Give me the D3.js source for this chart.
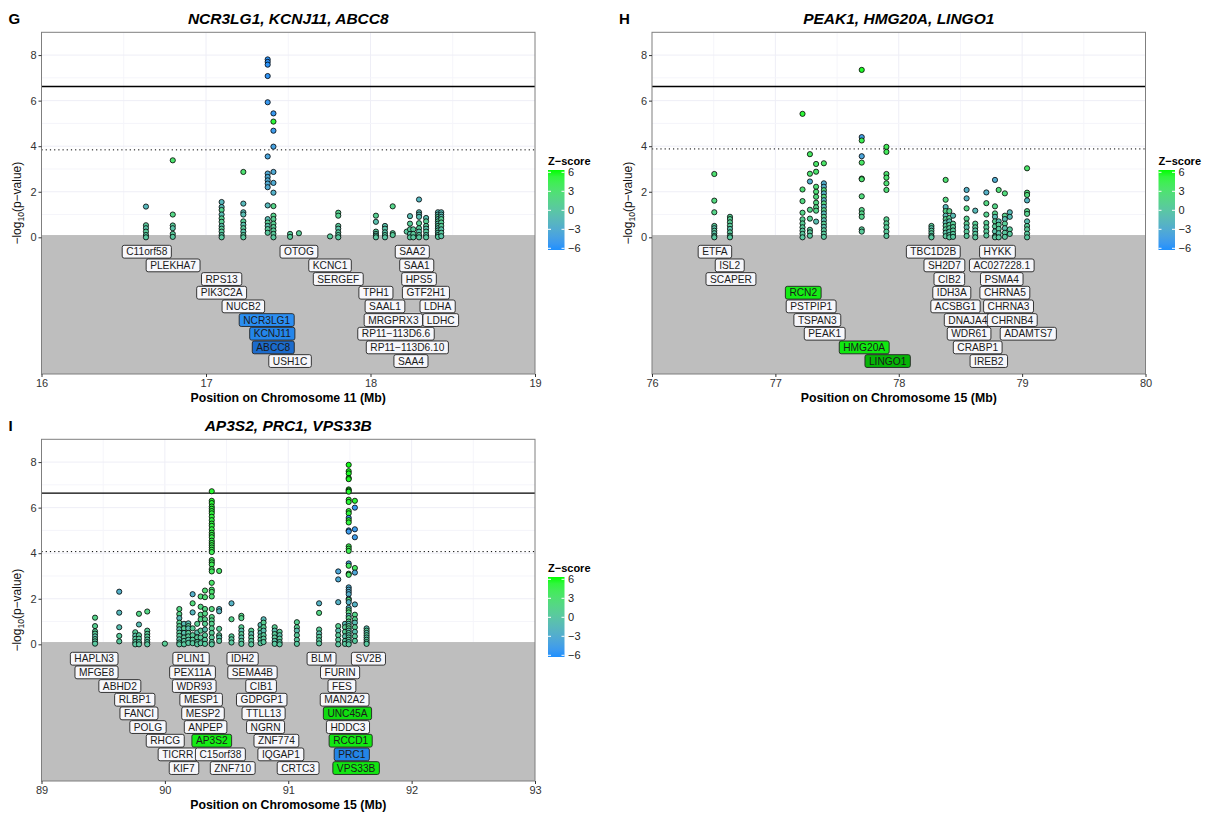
<!DOCTYPE html>
<html>
<head>
<meta charset="utf-8">
<script src="https://cdn.jsdelivr.net/npm/d3@7"></script>
<style>
body { margin: 0; background: #fff; }
text { font-family: Helvetica, Arial, "Liberation Sans", sans-serif; }
</style>
</head>
<body>
<script>
// columns of SNPs: [position (Mb), [[-log10 p, z-score], ...]]
const gCols = [
  [16.635, [[1.35,-1.6],[0.53,0.5],[0.4,-0.3],[0.25,0.4],[0.1,0.2],[0.0,0.1]]],
  [16.798, [[3.38,3.0],[1.0,1.7],[0.52,0.6],[0.4,-0.3],[0.15,0.5],[0.02,0.2]]],
  [17.095, [[1.55,-1.6],[1.33,-1.4],[1.2,1.3],[1.0,-1.0],[0.83,1.0],[0.68,0.9],[0.5,-0.6],[0.38,0.7],[0.25,0.4],[0.1,-0.3],[0.0,0.2]]],
  [17.227, [[2.87,2.8],[1.48,-1.5],[1.1,-1.2],[1.0,-1.0],[0.7,0.7],[0.55,-0.6],[0.4,0.5],[0.25,-0.4],[0.1,0.3],[0.0,0.2]]],
  [17.375, [[7.81,-5.6],[7.7,-5.6],[7.58,-5.6],[7.08,-5.4],[5.93,-5.0],[3.55,-3.7],[2.8,-3.1],[2.65,-3.0],[2.5,-3.0],[2.36,-3.0],[2.2,-3.0],[1.4,-1.5],[0.8,-1.1],[0.65,0.8],[0.5,-0.6],[0.36,0.5],[0.2,0.3]]],
  [17.41, [[5.44,-5.0],[5.08,5.1],[4.68,-4.7],[3.98,-4.0],[2.87,-3.1],[2.39,-3.0],[1.96,-2.4],[1.37,1.5],[0.95,1.3],[0.8,1.0],[0.6,0.9],[0.45,0.7],[0.3,0.6],[0.15,0.4],[0.0,0.3]]],
  [17.511, [[0.15,0.6],[0.02,0.5]]],
  [17.565, [[0.18,0.7]]],
  [17.754, [[0.04,0.5]]],
  [17.804, [[1.08,1.2],[0.95,1.1],[0.5,0.5],[0.38,-0.4],[0.22,0.3],[0.1,0.2],[0.0,0.2]]],
  [18.033, [[0.95,1.0],[0.68,-0.8],[0.25,0.3],[0.15,-0.3],[0.07,0.2],[0.0,0.1]]],
  [18.088, [[0.5,-0.5],[0.38,-0.4],[0.22,-0.3],[0.1,0.2],[0.0,-0.1]]],
  [18.135, [[1.36,1.5],[0.18,0.6],[0.1,0.5]]],
  [18.22, [[0.25,0.3]]],
  [18.24, [[0.93,-1.0],[0.6,0.7],[0.35,0.4],[0.15,-0.3],[0.0,0.3]]],
  [18.26, [[0.35,0.5],[0.15,0.4],[0.0,0.2]]],
  [18.295, [[1.66,-1.8],[1.1,-1.2],[1.0,-1.1],[0.9,-1.0],[0.62,0.9],[0.4,0.5],[0.25,-0.3],[0.1,0.4],[0.0,0.2]]],
  [18.338, [[0.85,-0.9],[0.7,0.8],[0.5,0.6],[0.38,-0.4],[0.25,0.3],[0.1,-0.2],[0.0,0.2]]],
  [18.41, [[1.1,-1.2],[1.0,-1.1],[0.9,1.0],[0.8,-0.9],[0.7,0.8],[0.6,-0.7],[0.5,0.6],[0.4,-0.5],[0.3,0.4],[0.2,-0.3],[0.1,0.2],[0.02,0.2]]],
  [18.43, [[1.1,-1.2],[1.0,-1.0],[0.9,-1.0],[0.8,0.9],[0.65,0.8],[0.5,0.6],[0.35,-0.4],[0.2,0.3],[0.05,-0.2]]]
]

const hCols = [
  [76.505, [[2.78,2.8],[1.61,2.0],[1.1,1.5],[0.5,0.6],[0.4,-0.5],[0.29,0.4],[0.18,-0.3],[0.06,0.2],[0.0,0.2]]],
  [76.632, [[0.9,1.0],[0.8,0.9],[0.66,0.8],[0.51,0.6],[0.37,-0.5],[0.22,0.4],[0.07,0.3],[0.0,0.2]]],
  [77.22, [[5.42,5.1],[2.1,2.5],[1.59,2.0],[1.08,1.5],[0.79,0.9],[0.61,0.8],[0.44,0.6],[0.29,0.4],[0.15,0.3],[0.0,0.2]]],
  [77.28, [[3.65,3.6],[2.79,3.0],[2.45,-2.7],[1.21,1.5],[0.82,1.0],[0.33,0.5],[0.22,0.4],[0.07,0.3]]],
  [77.33, [[3.22,3.3],[2.88,3.1],[2.22,2.6],[2.0,2.4],[1.78,2.2],[1.52,1.9],[1.32,1.6],[1.17,1.5],[0.69,-0.9]]],
  [77.393, [[3.25,3.3],[2.37,-2.6],[2.22,-2.5],[2.07,2.3],[1.93,-2.2],[1.78,2.1],[1.63,-1.9],[1.49,1.8],[1.34,-1.6],[1.19,1.5],[1.05,-1.3],[0.9,1.0],[0.75,-0.9],[0.6,0.8],[0.46,-0.6],[0.31,0.5],[0.16,0.3],[0.02,0.2]]],
  [77.70, [[7.35,5.5],[4.4,-4.3],[4.25,4.2],[3.56,-3.7],[3.28,3.4],[2.58,2.9],[2.55,2.9],[1.8,2.2],[1.2,1.5],[1.05,1.4],[0.9,1.3],[0.35,0.6],[0.25,0.5]]],
  [77.90, [[3.97,4.0],[3.75,3.8],[2.78,3.0],[2.62,2.9],[2.37,2.7],[2.08,2.5],[0.79,1.0],[0.61,0.8],[0.44,0.6],[0.25,0.4],[0.06,0.3]]],
  [78.265, [[0.5,0.6],[0.4,-0.5],[0.29,0.4],[0.18,0.3],[0.06,-0.2],[0.0,0.2]]],
  [78.38, [[2.52,2.8],[1.65,2.0],[1.33,-1.6],[1.15,1.4],[0.95,-1.1],[0.8,1.0],[0.65,-0.8],[0.5,0.6],[0.35,0.5],[0.2,-0.3],[0.05,0.2]]],
  [78.41, [[1.15,1.4],[0.85,1.0],[0.7,-0.9],[0.55,0.7],[0.4,0.5],[0.25,-0.4],[0.1,0.3],[0.0,0.2]]],
  [78.44, [[0.95,-1.1],[0.6,0.8],[0.45,0.6],[0.3,0.5],[0.15,0.3],[0.02,0.2]]],
  [78.55, [[2.08,-2.3],[1.71,-2.0],[1.27,1.6],[0.82,1.0],[0.6,0.8],[0.44,-0.6],[0.25,0.4],[0.06,0.3]]],
  [78.62, [[1.17,-1.4],[0.6,0.8],[0.44,0.6],[0.3,-0.4],[0.15,0.3],[0.0,0.2]]],
  [78.71, [[1.97,-2.3],[1.5,1.8],[1.0,1.2],[0.63,0.8],[0.44,0.6],[0.26,0.4],[0.08,0.3]]],
  [78.78, [[2.52,-2.8],[1.36,1.6],[1.05,1.2],[0.9,-1.0],[0.7,0.9],[0.48,0.6],[0.26,-0.4],[0.05,0.3],[0.0,0.2]]],
  [78.81, [[2.08,2.4],[0.7,-0.8],[0.55,0.7],[0.37,0.5],[0.18,-0.3],[0.0,0.2]]],
  [78.86, [[1.93,2.2],[0.95,1.2],[0.8,-0.9],[0.6,0.8],[0.4,-0.5],[0.2,0.3],[0.02,0.2]]],
  [78.90, [[1.1,-1.3],[0.9,-1.0],[0.35,0.5],[0.15,0.3]]],
  [79.04, [[3.03,3.2],[1.96,2.3],[1.86,2.2],[1.62,-1.9],[1.15,1.4],[1.03,1.2],[0.7,-0.8],[0.5,0.6],[0.35,0.5],[0.16,0.3],[0.0,0.2]]]
]

const iCols = [
  [89.434, [[1.17,1.4],[0.8,1.0],[0.57,0.7],[0.47,0.6],[0.35,-0.4],[0.23,0.3],[0.13,0.3],[0.03,0.2]]],
  [89.63, [[2.31,-2.5],[1.39,-1.6],[0.75,-0.9],[0.37,0.5],[0.13,0.3]]],
  [89.76, [[0.53,0.6],[0.38,-0.4],[0.24,0.3],[0.1,0.2],[0.0,0.2]]],
  [89.79, [[1.34,1.6],[0.87,-1.0],[0.4,0.5],[0.25,0.3],[0.1,0.2],[0.0,0.2]]],
  [89.857, [[1.44,1.7],[0.6,0.7],[0.46,0.6],[0.34,0.5],[0.21,0.3],[0.1,0.2],[0.0,0.2]]],
  [90.0, [[0.03,0.8]]],
  [90.117, [[1.55,1.8],[1.33,1.6],[1.15,-1.4],[0.95,1.1],[0.8,1.0],[0.66,-0.8],[0.51,0.6],[0.37,0.5],[0.22,-0.3],[0.08,0.3],[0.0,0.2]]],
  [90.155, [[0.9,-1.1],[0.7,0.8],[0.5,-0.6],[0.3,0.4],[0.15,0.3],[0.0,0.2]]],
  [90.19, [[0.92,-1.1],[0.8,1.0],[0.7,-0.9],[0.5,0.6],[0.35,0.5],[0.2,-0.3],[0.06,0.2]]],
  [90.225, [[2.2,-2.5],[1.8,2.2],[1.4,-1.7],[0.7,0.8],[0.4,0.5],[0.2,0.3],[0.05,0.2]]],
  [90.262, [[0.9,1.0],[0.52,-0.6],[0.3,0.4],[0.1,0.3],[0.0,0.2]]],
  [90.29, [[2.1,2.4],[1.65,2.0],[1.3,1.6],[1.1,1.4],[0.6,0.7],[0.3,0.4],[0.05,0.2]]],
  [90.325, [[2.36,2.6],[2.07,2.4],[1.55,1.9],[1.35,1.7],[1.1,1.3],[0.9,1.0],[0.65,-0.8],[0.4,0.5],[0.2,0.3],[0.02,0.2]]],
  [90.38, [[6.72,5.3],[6.3,5.2],[6.2,5.1],[6.05,5.0],[5.95,5.0],[5.85,5.0],[5.75,4.9],[5.6,4.9],[5.45,4.8],[5.3,4.8],[5.2,4.7],[5.05,4.7],[4.9,4.6],[4.8,4.6],[4.7,4.5],[4.55,4.5],[4.45,4.4],[4.35,4.4],[4.25,4.3],[4.15,4.3],[4.05,4.2],[3.7,4.0],[3.6,3.9],[3.5,3.9],[3.3,3.7],[3.2,3.7],[2.7,3.2],[2.4,3.0],[2.3,2.9],[2.1,2.7],[1.55,2.1],[1.2,1.6],[1.05,1.4],[0.9,1.2],[0.7,1.0],[0.5,0.7],[0.3,0.5],[0.1,0.3],[0.0,0.2]]],
  [90.44, [[3.22,3.4],[1.55,-1.9],[1.45,-1.8],[0.68,0.8],[0.4,0.5],[0.3,-0.4],[0.15,0.3]]],
  [90.54, [[1.8,-2.1],[1.1,1.3],[0.35,0.5],[0.22,0.3],[0.08,0.2]]],
  [90.62, [[1.25,1.5],[1.15,1.4],[0.75,0.9],[0.6,-0.7],[0.45,0.6],[0.3,-0.4],[0.15,0.3],[0.02,0.2]]],
  [90.70, [[0.6,0.7],[0.45,-0.5],[0.3,0.4],[0.15,0.3],[0.0,0.2]]],
  [90.775, [[0.85,-1.0],[0.65,0.8],[0.5,-0.6],[0.35,0.5],[0.2,0.3],[0.05,0.2]]],
  [90.80, [[1.1,-1.3],[0.95,0.9],[0.75,1.0],[0.6,-0.7],[0.4,0.5],[0.25,0.3],[0.1,0.2]]],
  [90.89, [[0.75,0.9],[0.6,-0.7],[0.45,0.6],[0.3,0.4],[0.15,-0.3],[0.02,0.2]]],
  [90.93, [[0.55,0.7],[0.4,-0.5],[0.25,0.4],[0.1,0.2],[0.0,0.2]]],
  [91.07, [[0.97,1.1],[0.75,0.9],[0.6,-0.7],[0.4,0.5],[0.2,0.3],[0.02,0.2]]],
  [91.25, [[1.8,-2.1],[1.38,1.7],[0.65,0.8],[0.48,-0.6],[0.33,0.4],[0.18,0.3],[0.04,0.2]]],
  [91.405, [[3.2,-3.4],[2.85,-3.1],[1.85,-2.2],[0.8,1.0],[0.6,-0.7],[0.4,0.5],[0.2,0.3],[0.0,0.2]]],
  [91.46, [[0.9,-1.1],[0.75,0.9],[0.55,0.7],[0.35,-0.5],[0.15,0.3],[0.02,0.2]]],
  [91.49, [[7.88,5.8],[7.6,5.7],[7.5,5.6],[7.3,5.6],[7.25,5.6],[6.8,5.4],[6.75,5.4],[6.7,5.4],[6.35,5.3],[6.25,5.2],[5.85,5.1],[5.75,5.0],[5.55,-4.9],[5.45,5.0],[5.35,4.9],[5.0,-4.8],[4.95,-4.7],[4.3,4.3],[4.2,4.2],[4.1,4.2],[3.55,-3.8],[3.45,3.7],[3.1,3.5],[3.05,3.4],[2.5,-2.9],[2.4,-2.8],[2.3,-2.7],[2.2,-2.6],[2.0,-2.4],[1.95,2.3],[1.85,-2.2],[1.6,-2.0],[1.5,1.9],[1.4,1.8],[1.25,-1.5],[1.15,1.4],[1.0,1.2],[0.9,-1.1],[0.8,1.0],[0.7,0.9],[0.6,-0.7],[0.5,0.6],[0.4,-0.5],[0.3,0.4],[0.2,0.3],[0.1,-0.2],[0.0,0.2]]],
  [91.54, [[6.3,5.2],[6.0,-5.1],[5.05,-4.8],[4.7,-4.6],[3.35,3.6],[3.15,-3.4],[1.75,-2.1],[1.3,1.6],[1.1,1.3],[0.95,-1.1],[0.75,0.9],[0.55,-0.7],[0.35,0.5],[0.15,0.3]]],
  [91.635, [[0.7,-0.8],[0.6,0.7],[0.5,-0.6],[0.4,0.5],[0.3,-0.4],[0.2,0.3],[0.1,0.2],[0.02,0.2]]]
]

// gene labels: [name, position (Mb), row]
const gLabels = [
  ["C11orf58",16.64,0],["PLEKHA7",16.80,1],["RPS13",17.095,2],["PIK3C2A",17.095,3],["NUCB2",17.227,4],
  ["NCR3LG1",17.369,5],["KCNJ11",17.403,6],["ABCC8",17.409,7],["USH1C",17.511,8],
  ["OTOG",17.565,0],["KCNC1",17.754,1],["SERGEF",17.804,2],["TPH1",18.033,3],["SAAL1",18.088,4],
  ["MRGPRX3",18.139,5],["RP11\u2212113D6.6",18.155,6],["RP11\u2212113D6.10",18.224,7],["SAA4",18.246,8],
  ["SAA2",18.254,0],["SAA1",18.281,1],["HPS5",18.295,2],["GTF2H1",18.337,3],["LDHA",18.408,4],["LDHC",18.427,5]
]
const hLabels = [
  ["ETFA",76.51,0],["ISL2",76.63,1],["SCAPER",76.64,2],["RCN2",77.226,3],["PSTPIP1",77.29,4],
  ["TSPAN3",77.34,5],["PEAK1",77.40,6],["HMG20A",77.72,7],["LINGO1",77.91,8],
  ["TBC1D2B",78.28,0],["SH2D7",78.37,1],["CIB2",78.41,2],["IDH3A",78.43,3],["ACSBG1",78.46,4],
  ["DNAJA4",78.56,5],["WDR61",78.57,6],["CRABP1",78.64,7],["IREB2",78.73,8],
  ["HYKK",78.80,0],["AC027228.1",78.835,1],["PSMA4",78.835,2],["CHRNA5",78.86,3],["CHRNA3",78.89,4],
  ["CHRNB4",78.92,5],["ADAMTS7",79.05,6]
]
const iLabels = [
  ["HAPLN3",89.427,0],["MFGE8",89.446,1],["ABHD2",89.635,2],["RLBP1",89.756,3],["FANCI",89.79,4],
  ["POLG",89.863,5],["RHCG",90.003,6],["TICRR",90.104,7],["KIF7",90.155,8],
  ["PLIN1",90.212,0],["PEX11A",90.224,1],["WDR93",90.238,2],["MESP1",90.294,3],["MESP2",90.309,4],
  ["ANPEP",90.33,5],["AP3S2",90.38,6],["C15orf38",90.45,7],["ZNF710",90.55,8],
  ["IDH2",90.63,0],["SEMA4B",90.71,1],["CIB1",90.78,2],["GDPGP1",90.785,3],["TTLL13",90.80,4],
  ["NGRN",90.816,5],["ZNF774",90.904,6],["IQGAP1",90.94,7],["CRTC3",91.08,8],
  ["BLM",91.27,0],["SV2B",91.65,0],["FURIN",91.42,1],["FES",91.435,2],["MAN2A2",91.457,3],
  ["UNC45A",91.48,4],["HDDC3",91.484,5],["RCCD1",91.506,6],["PRC1",91.515,7],["VPS33B",91.55,8]
]

// highlighted genes and their label fills
const highlight = {
  NCR3LG1: "#2b8ef2", KCNJ11: "#2486ea", ABCC8: "#1c6bcc",
  RCN2: "#14ec14", HMG20A: "#10e810", LINGO1: "#06b406",
  AP3S2: "#14ec14", UNC45A: "#10dc10", RCCD1: "#12e812", PRC1: "#2484e6", VPS33B: "#12e612"
}

const zTicks = [6, 3, 0, -3, -6]
const yTicks = [0, 2, 4, 6, 8]

const panels = [
  {tag: "G", title: "NCR3LG1, KCNJ11, ABCC8", chr: 11, dom: [16, 19], cols: gCols, labels: gLabels, sig: 6.62, sug: 3.84, left: 41.5, top: 32.3},
  {tag: "H", title: "PEAK1, HMG20A, LINGO1", chr: 15, dom: [76, 80], cols: hCols, labels: hLabels, sig: 6.62, sug: 3.88, left: 652, top: 32.3},
  {tag: "I", title: "AP3S2, PRC1, VPS33B", chr: 15, dom: [89, 93], cols: iCols, labels: iLabels, sig: 6.64, sug: 4.07, left: 41.5, top: 439.3}
]

const width = 1214, height = 817
const pw = 493.5, ph = 341.7

const zColor = d3.scaleLinear().domain([-6, 6])
  .range(["#1e90ff", "#00ff00"])
  .interpolate(d3.interpolateLab)
  .clamp(true)

let svg = d3.select("body").append("svg")
  .attr("width", width)
  .attr("height", height)

// gradient for the colour bar
let grad = svg.append("defs").append("linearGradient")
  .attr("id", "zgrad")
  .attr("x1", 0).attr("y1", 1).attr("x2", 0).attr("y2", 0)
d3.range(-6, 6.01, 1).forEach((v) => {
  grad.append("stop").attr("offset", (v + 6) / 12).attr("stop-color", zColor(v))
})

const drawPanel = (p) => {
  let g = svg.append("g").attr("transform", `translate(${p.left},${p.top})`)
  const x = d3.scaleLinear().domain(p.dom).range([0, pw])
  const y = d3.scaleLinear().domain([-6, 9]).range([ph, 0])

  g.append("rect").attr("width", pw).attr("height", ph).attr("fill", "#fff")

  // grid
  let grid = g.append("g")
  d3.range(p.dom[0] + 0.5, p.dom[1], 0.5).forEach((v) => {
    grid.append("line").attr("x1", x(v)).attr("x2", x(v)).attr("y1", 0).attr("y2", ph)
      .attr("stroke", Number.isInteger(v) ? "#eeeef6" : "#f5f5fa")
  })
  d3.range(1, 9).forEach((v) => {
    grid.append("line").attr("x1", 0).attr("x2", pw).attr("y1", y(v)).attr("y2", y(v))
      .attr("stroke", v % 2 == 0 ? "#eeeef6" : "#f5f5fa")
  })

  // label area
  g.append("rect")
    .attr("y", y(0.1)).attr("width", pw).attr("height", ph - y(0.1))
    .attr("fill", "#bebebe")

  g.append("line").attr("x1", 0).attr("x2", pw).attr("y1", y(p.sig)).attr("y2", y(p.sig))
    .attr("stroke", "#000").attr("stroke-width", 1.3)
  g.append("line").attr("x1", 0).attr("x2", pw).attr("y1", y(p.sug)).attr("y2", y(p.sug))
    .attr("stroke", "#000").attr("stroke-width", 1).attr("stroke-dasharray", "1.2,3")

  // points
  let pts = []
  p.cols.forEach(([pos, list]) => list.forEach(([lp, z]) => pts.push({pos, lp, z})))
  g.append("g").selectAll("circle").data(pts).join("circle")
    .attr("cx", (d) => x(d.pos))
    .attr("cy", (d) => y(d.lp))
    .attr("r", 2.6)
    .attr("fill", (d) => zColor(d.z))
    .attr("stroke", "#000")
    .attr("stroke-width", 0.8)

  // gene labels
  p.labels.forEach(([name, pos, row]) => {
    let lg = g.append("g")
      .attr("transform", `translate(${x(pos)},${y(-0.632 - 0.6 * row)})`)
    let t = lg.append("text")
      .attr("text-anchor", "middle")
      .attr("dy", "0.35em")
      .attr("font-size", 10.2)
      .attr("fill", "#1a1a1a")
      .text(name)
    const w = t.node().getComputedTextLength() + 8
    lg.insert("rect", "text")
      .attr("x", -w / 2).attr("y", -6.4)
      .attr("width", w).attr("height", 12.8)
      .attr("rx", 2)
      .attr("fill", highlight[name] || "#f7f7fb")
      .attr("stroke", "#222")
      .attr("stroke-width", 0.9)
  })

  g.append("rect").attr("width", pw).attr("height", ph)
    .attr("fill", "none").attr("stroke", "#7f7f7f").attr("stroke-width", 1)

  // axes
  let ya = g.append("g").call(d3.axisLeft(y).tickValues(yTicks).tickSize(3).tickPadding(2))
  let xa = g.append("g").attr("transform", `translate(0,${ph})`)
    .call(d3.axisBottom(x).ticks(p.dom[1] - p.dom[0]).tickSize(3).tickPadding(2).tickFormat(d3.format("d")))
  ;[ya, xa].forEach((a) => {
    a.select(".domain").remove()
    a.selectAll(".tick line").attr("stroke", "#333")
    a.selectAll("text").attr("font-size", 11).attr("fill", "#333")
      .style("font-family", "Helvetica, Arial, 'Liberation Sans', sans-serif")
  })

  g.append("text")
    .attr("x", pw / 2).attr("y", ph + 28.5)
    .attr("text-anchor", "middle")
    .attr("font-size", 12.3).attr("font-weight", "bold")
    .text(`Position on Chromosome ${p.chr} (Mb)`)

  let yt = g.append("text")
    .attr("transform", `translate(-20.5,${ph / 2}) rotate(-90)`)
    .attr("text-anchor", "middle")
    .attr("font-size", 12)
    .attr("fill", "#111")
  yt.append("tspan").text("\u2212log")
  yt.append("tspan").attr("font-size", 8.5).attr("dy", 3).text("10")
  yt.append("tspan").attr("dy", -3).text("(p\u2212value)")

  g.append("text")
    .attr("x", pw / 2).attr("y", -8.5)
    .attr("text-anchor", "middle")
    .attr("font-size", 15.5).attr("font-weight", "bold").attr("font-style", "italic")
    .text(p.title)

  g.append("text")
    .attr("x", -33).attr("y", -8.5)
    .attr("font-size", 15).attr("font-weight", "bold")
    .text(p.tag)

  // colour legend
  let lgd = g.append("g").attr("transform", `translate(${pw + 13},0)`)
  lgd.append("text").attr("x", 0).attr("y", 132.5)
    .attr("font-size", 11).attr("font-weight", "bold").text("Z\u2212score")
  const zy = d3.scaleLinear().domain([-6, 6]).range([216, 140])
  lgd.append("rect").attr("x", 0).attr("y", 137.7).attr("width", 16.5).attr("height", 80)
    .attr("fill", "url(#zgrad)")
  zTicks.forEach((v) => {
    lgd.append("line").attr("x1", 0).attr("x2", 3).attr("y1", zy(v)).attr("y2", zy(v))
      .attr("stroke", "#fff").attr("stroke-width", 1)
    lgd.append("line").attr("x1", 13.5).attr("x2", 16.5).attr("y1", zy(v)).attr("y2", zy(v))
      .attr("stroke", "#fff").attr("stroke-width", 1)
    lgd.append("text").attr("x", 20).attr("y", zy(v)).attr("dy", "0.35em")
      .attr("font-size", 11).attr("fill", "#222")
      .text(v < 0 ? "\u2212" + Math.abs(v) : v)
  })
}

panels.forEach(drawPanel)
</script>
</body>
</html>
